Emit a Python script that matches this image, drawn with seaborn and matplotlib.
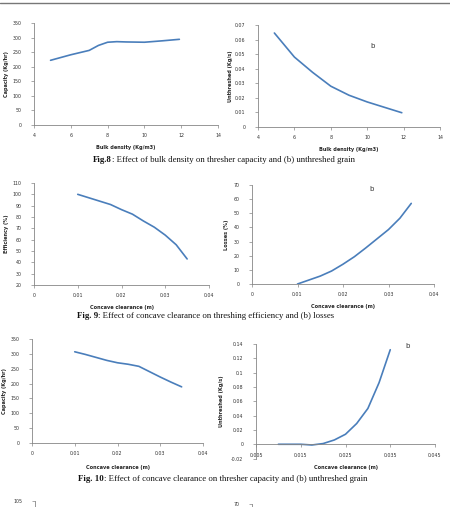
import numpy as np
import matplotlib
matplotlib.use("Agg")
import matplotlib.pyplot as plt
import seaborn as sns
from matplotlib.lines import Line2D

# Fig. 8 - bulk density
bulk_a = [4.9, 6, 7, 7.5, 8, 8.5, 9, 10, 11, 11.9]
capacity_a = [222, 241, 256, 273, 284, 286, 285, 284, 289, 294]
bulk_b = [4.9, 6, 7, 8, 9, 10, 11, 11.9]
unthreshed_b = [0.0645, 0.048, 0.0375, 0.028, 0.0218, 0.0172, 0.0133, 0.0098]

# Fig. 9 / Fig. 10 - concave clearance
clearance = [0.01, 0.0125, 0.015, 0.0175, 0.02, 0.0225, 0.025, 0.0275, 0.03, 0.0325, 0.035]
efficiency = [100, 97, 94, 91, 86.5, 82.5, 76.5, 71, 64, 55.5, 43]
losses = [0, 2.8, 5.6, 9.2, 14, 19.3, 25.5, 32, 38.5, 46.5, 57]
capacity_c = [307, 298, 288, 278, 270, 265, 258, 240, 222, 205, 189]
unthreshed_c = [0, 0, 0, -0.001, 0.001, 0.006, 0.014, 0.029, 0.05, 0.086, 0.132]

W, H = 450, 507
LINE = "#4A7EBB"
GREY = "#868686"

sns.set_style("white")
plt.rcParams["font.family"] = ["DejaVu Sans"]

fig = plt.figure(figsize=(W / 100, H / 100), dpi=100)


def make_ax(x0, x1, ytop, ybot):
    ax = fig.add_axes([x0 / W, 1 - ybot / H, (x1 - x0) / W, (ybot - ytop) / H])
    ax.set_facecolor("none")
    for s in ["top", "right"]:
        ax.spines[s].set_visible(False)
    for s in ["left", "bottom"]:
        ax.spines[s].set_color(GREY)
        ax.spines[s].set_linewidth(0.6)
    ax.tick_params(axis="both", length=2, width=0.5, color=GREY, labelsize=3.4,
                   labelcolor="#333333", left=True, bottom=True)
    ax.tick_params(axis="y", pad=7)
    ax.tick_params(axis="x", pad=4)
    return ax


def draw(ax, x, y, xlabel, ylabel, xl, yl):
    sns.lineplot(x=x, y=y, ax=ax, color=LINE, linewidth=1.2, sort=False)
    ax.set_xlabel(xlabel, fontsize=3.6, fontweight="bold", labelpad=xl)
    ax.set_ylabel(ylabel, fontsize=3.6, fontweight="bold", labelpad=yl)


# Fig 8a
ax = make_ax(34, 218, 23, 125)
draw(ax, bulk_a, capacity_a, "Bulk density (Kg/m3)", "Capacity (Kg/hr)", 5, 2.5)
ax.set_xlim(4, 14); ax.set_xticks([4, 6, 8, 10, 12, 14])
ax.set_ylim(0, 350); ax.set_yticks(range(0, 351, 50))

# Fig 8b
ax = make_ax(258, 440, 25, 127)
draw(ax, bulk_b, unthreshed_b, "Bulk density (Kg/m3)", "Unthreshed (Kg/s)", 5, 1.5)
ax.set_xlim(4, 14); ax.set_xticks([4, 6, 8, 10, 12, 14])
ax.set_ylim(0, 0.07); ax.set_yticks(np.round(np.arange(0, 0.071, 0.01), 2))
ax.set_yticklabels(["0"] + ["%.2f" % v for v in np.arange(0.01, 0.071, 0.01)])
ax.text(10.2, 0.054, "b", fontsize=5, color="#333333")

# Fig 9a
ax = make_ax(34, 209, 183, 285)
draw(ax, clearance, efficiency, "Concave clearance (m)", "Efficiency (%)", 5, 2.5)
ax.set_xlim(0, 0.04); ax.set_xticks([0, 0.01, 0.02, 0.03, 0.04])
ax.set_xticklabels(["0", "0.01", "0.02", "0.03", "0.04"])
ax.set_ylim(20, 110); ax.set_yticks(range(20, 111, 10))

# Fig 9b
ax = make_ax(252, 434, 185, 284)
draw(ax, clearance, losses, "Concave clearance (m)", "Losses (%)", 5, 3)
ax.set_xlim(0, 0.04); ax.set_xticks([0, 0.01, 0.02, 0.03, 0.04])
ax.set_xticklabels(["0", "0.01", "0.02", "0.03", "0.04"])
ax.set_ylim(0, 70); ax.set_yticks(range(0, 71, 10))
ax.text(0.0257, 66, "b", fontsize=5, color="#333333")

# Fig 10a
ax = make_ax(32, 203, 339, 443)
draw(ax, clearance, capacity_c, "Concave clearance (m)", "Capacity (Kg/hr)", 6, 2.5)
ax.set_xlim(0, 0.04); ax.set_xticks([0, 0.01, 0.02, 0.03, 0.04])
ax.set_xticklabels(["0", "0.01", "0.02", "0.03", "0.04"])
ax.set_ylim(0, 350); ax.set_yticks(range(0, 351, 50))

# Fig 10b
ax = make_ax(256, 435, 344, 458.6)
draw(ax, clearance, unthreshed_c, "Concave clearance (m)", "Unthreshed (Kg/s)", 7, 5)
ax.spines["bottom"].set_position(("data", 0))
ax.set_xlim(0.005, 0.045); ax.set_xticks([0.005, 0.015, 0.025, 0.035, 0.045])
ax.set_xticklabels(["0.005", "0.015", "0.025", "0.035", "0.045"])
ax.set_ylim(-0.02, 0.14)
ax.set_yticks([-0.02, 0, 0.02, 0.04, 0.06, 0.08, 0.1, 0.12, 0.14])
ax.set_yticklabels(["-0.02", "0", "0.02", "0.04", "0.06", "0.08", "0.1", "0.12", "0.14"])
ax.xaxis.set_label_coords(0.5, -0.055)
ax.text(0.0383, 0.134, "b", fontsize=5, color="#333333")

# partial charts of the next figure at the bottom of the page
ax = make_ax(35, 210, 501, 620)
ax.set_ylim(0, 105); ax.set_yticks([105]); ax.set_xticks([])
ax = make_ax(252, 434, 503.5, 620)
ax.set_ylim(0, 70); ax.set_yticks([70]); ax.set_xticks([])

# page header rule
fig.add_artist(Line2D([0, 1], [1 - 3 / H] * 2, color="#777777", linewidth=1.0))

# captions
renderer = fig.canvas.get_renderer()


def caption(bold, rest, y, cx=None, left=None):
    kw = dict(fontsize=6.3, family=["Liberation Serif"], va="center", ha="left", color="#111111")
    t1 = fig.text(0, 1 - y / H, bold, fontweight="bold", **kw)
    t2 = fig.text(0, 1 - y / H, rest, **kw)
    w1 = t1.get_window_extent(renderer).width
    w2 = t2.get_window_extent(renderer).width
    x = left if left is not None else cx - (w1 + w2) / 2
    t1.set_x(x / W)
    t2.set_x((x + w1) / W)


caption("Fig.8", ": Effect of bulk density on thresher capacity and (b) unthreshed grain", 160, cx=224)
caption("Fig. 9", ": Effect of concave clearance on threshing efficiency and (b) losses", 316, left=77)
caption("Fig. 10", ": Effect of concave clearance on thresher capacity and (b) unthreshed grain", 479, cx=223)

fig.savefig("out.png", dpi=100)
